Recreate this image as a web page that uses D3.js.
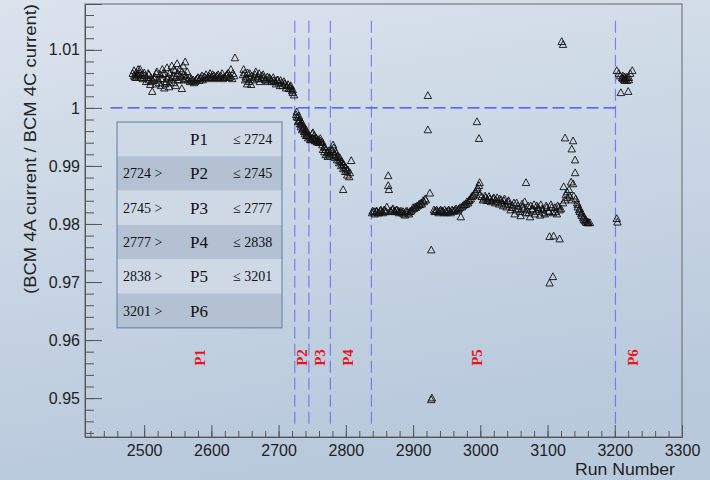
<!DOCTYPE html>
<html>
<head>
<meta charset="utf-8">
<script src="https://cdn.jsdelivr.net/npm/d3@7"></script>
<style>
  body { margin: 0; }
  svg { display: block; }
</style>
</head>
<body>
<div id="chart"></div>
<script>
// period boundaries (run numbers) and labels
var bounds = [2724, 2745, 2777, 2838, 3201];
var periods = ["P1", "P2", "P3", "P4", "P5", "P6"];
var periodLabelRuns = [2583, 2735, 2761, 2803, 2995, 3226];

var xTicks = [2500, 2600, 2700, 2800, 2900, 3000, 3100, 3200, 3300];
var yTicks = [0.95, 0.96, 0.97, 0.98, 0.99, 1, 1.01];

// [run, BCM4A/BCM4C]
var p1 = [[2483,1.0059],[2485,1.0064],[2486,1.0053],[2488,1.0060],[2489,1.0057],[2491,1.0066],[2492,1.0055],
  [2494,1.0060],[2495,1.0052],[2498,1.0050],[2501,1.0055],[2503,1.0045],[2506,1.0059],[2507,1.0048],
  [2509,1.0040],[2510,1.0052],[2512,1.0028],[2513,1.0047],[2516,1.0053],[2518,1.0041],[2519,1.0062],
  [2521,1.0048],[2524,1.0057],[2525,1.0038],[2527,1.0066],[2528,1.0050],[2530,1.0034],[2531,1.0059],
  [2533,1.0045],[2534,1.0069],[2536,1.0053],[2537,1.0036],[2538,1.0060],[2540,1.0048],[2541,1.0072],
  [2543,1.0055],[2544,1.0043],[2546,1.0064],[2547,1.0052],[2549,1.0076],[2550,1.0059],[2552,1.0048],
  [2553,1.0067],[2555,1.0053],[2556,1.0033],[2558,1.0072],[2559,1.0057],[2561,1.0079],[2562,1.0050],
  [2564,1.0062],[2565,1.0048],[2568,1.0045],[2571,1.0047],[2574,1.0043],[2577,1.0048],[2580,1.0052],
  [2583,1.0050],[2586,1.0055],[2589,1.0053],[2592,1.0057],[2595,1.0052],[2598,1.0059],[2601,1.0053],
  [2604,1.0055],[2607,1.0052],[2610,1.0057],[2613,1.0053],[2616,1.0059],[2619,1.0052],[2622,1.0055],
  [2625,1.0060],[2628,1.0053],[2629,1.0066],[2631,1.0050],[2632,1.0059],[2635,1.0086],[2647,1.0057],
  [2648,1.0066],[2650,1.0048],[2651,1.0053],[2653,1.0041],[2654,1.0060],[2656,1.0045],[2657,1.0052],
  [2659,1.0040],[2660,1.0055],[2663,1.0053],[2666,1.0062],[2668,1.0050],[2671,1.0059],[2672,1.0045],
  [2675,1.0055],[2678,1.0052],[2680,1.0048],[2683,1.0053],[2684,1.0045],[2687,1.0050],[2690,1.0045],
  [2693,1.0047],[2696,1.0041],[2699,1.0048],[2702,1.0038],[2705,1.0043],[2708,1.0045],[2711,1.0034],
  [2714,1.0040],[2717,1.0036],[2718,1.0033],[2720,1.0029],[2721,1.0026],[2723,1.0022],
  [2485,1.0055],[2488,1.0052],[2491,1.0059],[2494,1.0066],[2497,1.0057],[2500,1.0060],[2504,1.0052],
  [2507,1.0057],[2510,1.0045],[2515,1.0050],[2518,1.0059],[2522,1.0043],[2525,1.0050],[2528,1.0059],
  [2531,1.0041],[2534,1.0050],[2538,1.0043],[2541,1.0052],[2544,1.0066],[2547,1.0038],[2550,1.0048],
  [2553,1.0055],[2556,1.0062],[2559,1.0048],[2562,1.0055],[2567,1.0052],[2570,1.0050],[2573,1.0048],
  [2576,1.0045],[2579,1.0050],[2582,1.0047],[2584,1.0052],[2587,1.0048],[2590,1.0053],[2593,1.0050],
  [2596,1.0055],[2599,1.0052],[2602,1.0057],[2605,1.0050],[2608,1.0055],[2611,1.0052],[2614,1.0055],
  [2617,1.0050],[2620,1.0053],[2623,1.0057],[2626,1.0052],[2634,1.0055],[2650,1.0060],[2653,1.0050],
  [2657,1.0059],[2662,1.0048],[2665,1.0057],[2669,1.0053],[2674,1.0050],[2677,1.0057],[2681,1.0048],
  [2686,1.0052],[2689,1.0048],[2692,1.0052],[2695,1.0045],[2698,1.0048],[2700,1.0043],[2703,1.0047],
  [2706,1.0038],[2709,1.0041],[2712,1.0038],[2715,1.0033],[2718,1.0038],[2721,1.0031]];

var p2 = [[2726,0.9988],[2727,0.9993],[2729,0.9983],[2729,0.9976],[2730,0.9986],[2732,0.9972],[2732,0.9979],
  [2733,0.9967],[2735,0.9974],[2735,0.9962],[2736,0.9969],[2738,0.9959],[2738,0.9966],[2739,0.9955],
  [2741,0.9962],[2741,0.9952],[2742,0.9957],[2744,0.9948],[2744,0.9953],
  [2727,0.9984],[2730,0.9978],[2733,0.9972],[2736,0.9964],[2739,0.9960],[2742,0.9952]];

var p3 = [[2747,0.9950],[2748,0.9945],[2750,0.9955],[2751,0.9947],[2751,0.9957],[2753,0.9952],[2754,0.9943],
  [2756,0.9948],[2757,0.9941],[2759,0.9945],[2760,0.9940],[2762,0.9943],[2763,0.9940],[2765,0.9941],
  [2766,0.9928],[2768,0.9924],[2769,0.9931],[2770,0.9919],[2772,0.9922],[2773,0.9916],[2775,0.9926],
  [2776,0.9917],
  [2747,0.9945],[2750,0.9948],[2753,0.9945],[2756,0.9943],[2759,0.9941],[2762,0.9947],[2765,0.9936],
  [2768,0.9933],[2770,0.9928],[2773,0.9924],[2776,0.9922]];

var p4 = [[2779,0.9928],[2781,0.9936],[2782,0.9919],[2782,0.9931],[2784,0.9914],[2785,0.9924],[2787,0.9910],
  [2788,0.9917],[2790,0.9905],[2791,0.9914],[2793,0.9900],[2794,0.9907],[2796,0.9895],[2797,0.9902],
  [2799,0.9890],[2800,0.9897],[2802,0.9884],[2803,0.9893],[2805,0.9881],[2806,0.9888],[2808,0.9909],
  [2796,0.9859],
  [2781,0.9924],[2784,0.9919],[2787,0.9916],[2790,0.9910],[2793,0.9907],[2796,0.9902],[2799,0.9897],
  [2802,0.9891]];

var p5 = [[2839,0.9819],[2840,0.9822],[2843,0.9817],[2845,0.9821],[2848,0.9819],[2851,0.9822],[2854,0.9821],
  [2857,0.9824],[2860,0.9821],[2861,0.9829],[2863,0.9883],[2863,0.9866],[2864,0.9859],[2866,0.9822],
  [2869,0.9824],[2872,0.9822],[2875,0.9824],[2878,0.9822],[2880,0.9821],[2883,0.9819],[2886,0.9817],
  [2889,0.9821],[2892,0.9819],[2895,0.9821],[2898,0.9824],[2901,0.9826],[2904,0.9828],[2907,0.9831],
  [2910,0.9833],[2913,0.9834],[2916,0.9838],[2919,0.9841],[2922,1.0021],[2922,0.9962],[2925,0.9853],
  [2927,0.9755],[2927,0.9497],[2928,0.9500],
  [2842,0.9821],[2846,0.9822],[2849,0.9819],[2852,0.9824],[2855,0.9819],[2858,0.9822],[2867,0.9821],
  [2870,0.9826],[2873,0.9821],[2876,0.9824],[2879,0.9819],[2882,0.9822],[2885,0.9821],[2888,0.9815],
  [2891,0.9822],[2894,0.9817],[2897,0.9822],[2900,0.9828],[2903,0.9829],[2906,0.9831],[2909,0.9834],
  [2912,0.9836],[2915,0.9840],[2918,0.9843],
  [2931,0.9824],[2934,0.9822],[2937,0.9821],[2940,0.9822],[2943,0.9821],[2946,0.9819],[2949,0.9821],
  [2952,0.9822],[2955,0.9821],[2958,0.9824],[2961,0.9822],[2964,0.9826],[2967,0.9824],[2970,0.9828],
  [2971,0.9812],[2973,0.9829],[2976,0.9833],[2979,0.9834],[2982,0.9836],[2984,0.9841],[2987,0.9847],
  [2990,0.9850],[2993,0.9855],[2996,0.9862],[2995,0.9976],[2998,0.9947],[2999,0.9871],
  [2932,0.9821],[2935,0.9824],[2938,0.9819],[2941,0.9824],[2944,0.9822],[2947,0.9824],[2950,0.9819],
  [2953,0.9824],[2956,0.9819],[2959,0.9822],[2962,0.9824],[2965,0.9822],[2968,0.9826],[2974,0.9831],
  [2977,0.9833],[2980,0.9838],[2983,0.9840],[2986,0.9843],[2989,0.9848],[2992,0.9853],[2995,0.9859],
  [2998,0.9866],
  [3002,0.9847],[3005,0.9843],[3008,0.9845],[3011,0.9841],[3014,0.9843],[3017,0.9840],[3020,0.9845],
  [3023,0.9841],[3026,0.9838],[3029,0.9843],[3032,0.9836],[3035,0.9840],[3038,0.9834],[3041,0.9838],
  [2999,0.9850],[3004,0.9841],[3007,0.9848],[3010,0.9840],[3013,0.9847],[3016,0.9838],[3019,0.9843],
  [3022,0.9836],[3025,0.9845],[3028,0.9834],[3031,0.9841],[3034,0.9831],[3036,0.9843],[3039,0.9829],
  [3042,0.9840],
  [3044,0.9833],[3047,0.9828],[3050,0.9836],[3053,0.9824],[3056,0.9831],[3059,0.9821],[3062,0.9834],
  [3065,0.9826],[3068,0.9871],[3068,0.9819],[3071,0.9831],[3074,0.9812],[3077,0.9824],[3080,0.9833],
  [3083,0.9821],[3086,0.9828],[3089,0.9815],[3092,0.9826],[3095,0.9819],[3098,0.9831],[3101,0.9822],
  [3103,0.9778],[3103,0.9698],[3106,0.9828],[3108,0.9709],[3109,0.9779],[3112,0.9821],[3115,0.9831],
  [3118,0.9774],[3118,0.9824],
  [3045,0.9824],[3048,0.9831],[3051,0.9817],[3054,0.9836],[3057,0.9826],[3060,0.9814],[3063,0.9829],
  [3066,0.9838],[3069,0.9824],[3072,0.9819],[3075,0.9831],[3078,0.9826],[3081,0.9817],[3084,0.9831],
  [3087,0.9824],[3090,0.9833],[3093,0.9824],[3096,0.9817],[3099,0.9828],[3102,0.9821],[3105,0.9833],
  [3108,0.9819],[3111,0.9828],[3114,0.9817],[3117,0.9829],
  [3121,1.0114],[3123,1.0109],[3124,0.9864],[3126,0.9948],[3127,0.9850],[3129,0.9855],[3130,0.9845],
  [3132,0.9859],[3133,0.9848],[3135,0.9872],[3136,0.9929],[3136,0.9841],[3138,0.9943],[3138,0.9869],
  [3141,0.9910],[3141,0.9888],
  [3120,0.9826],[3123,0.9836],[3126,0.9841],[3139,0.9848],[3142,0.9843],
  [3144,0.9836],[3145,0.9829],[3147,0.9824],[3148,0.9821],[3150,0.9817],[3151,0.9814],[3153,0.9810],
  [3154,0.9807],[3156,0.9805],[3157,0.9803],[3159,0.9802],[3160,0.9802],[3161,0.9802],
  [3145,0.9833],[3148,0.9826],[3151,0.9819],[3154,0.9812],[3157,0.9807],[3160,0.9803],[3163,0.9802]];

var p6 = [[3203,0.9809],[3204,0.9803],[3203,1.0064],[3206,1.0059],[3209,1.0026],[3211,1.0052],[3212,1.0055],
  [3214,1.0048],[3215,1.0053],[3217,1.0050],[3218,1.0047],[3220,1.0028],[3221,1.0052],[3223,1.0059],
  [3226,1.0064],
  [3208,1.0055],[3212,1.0050],[3215,1.0047],[3218,1.0053],[3221,1.0048]];

var width = 710, height = 480;

var svg = d3.select("#chart").append("svg")
    .attr("width", width)
    .attr("height", height);

var defs = svg.append("defs");
var grad = defs.append("linearGradient")
    .attr("id", "bg")
    .attr("x1", 0).attr("y1", 0).attr("x2", 0.25).attr("y2", 1);
grad.append("stop").attr("offset", "0%").attr("stop-color", "#dbe3ed");
grad.append("stop").attr("offset", "100%").attr("stop-color", "#b8c9dc");

svg.append("rect")
    .attr("width", width).attr("height", height)
    .attr("fill", "url(#bg)");

var x = d3.scaleLinear().domain([2412, 3300]).range([85, 682]);
var y = d3.scaleLinear().domain([0.9433, 1.0179]).range([437, 4]);

// frame
svg.append("rect")
    .attr("x", x.range()[0]).attr("y", y.range()[1])
    .attr("width", x.range()[1] - x.range()[0])
    .attr("height", y.range()[0] - y.range()[1])
    .attr("fill", "none")
    .attr("stroke", "#666")
    .attr("stroke-width", 1);

// axes: minor ticks
svg.append("g")
    .attr("transform", "translate(0," + y.range()[0] + ")")
    .call(d3.axisBottom(x).tickValues(d3.range(2420, 3301, 20)).tickSize(-6).tickFormat(""))
    .call(function(g) { g.select(".domain").remove(); });
svg.append("g")
    .attr("transform", "translate(" + x.range()[0] + ",0)")
    .call(d3.axisLeft(y).tickValues(d3.range(944, 1018, 2).map(function(d) { return d / 1000; })).tickSize(-9).tickFormat(""))
    .call(function(g) { g.select(".domain").remove(); });

// major ticks + labels
var xAxis = svg.append("g")
    .attr("transform", "translate(0," + y.range()[0] + ")")
    .call(d3.axisBottom(x).tickValues(xTicks).tickSize(-12).tickPadding(8).tickFormat(d3.format("d")));
var yAxis = svg.append("g")
    .attr("transform", "translate(" + x.range()[0] + ",0)")
    .call(d3.axisLeft(y).tickValues(yTicks).tickSize(-17).tickPadding(5).tickFormat(function(d) { return String(+d.toFixed(2)); }));

[xAxis, yAxis].forEach(function(g) {
    g.select(".domain").attr("stroke", "#555");
    g.selectAll("text")
        .attr("font-family", "Liberation Sans, Arial, sans-serif")
        .attr("font-size", 16)
        .attr("fill", "#222");
});
svg.selectAll(".tick line").attr("stroke", "#555");

// axis titles
svg.append("text")
    .attr("transform", "translate(36,4) rotate(-90)")
    .attr("text-anchor", "end")
    .attr("font-family", "Liberation Sans, Arial, sans-serif")
    .attr("font-size", 16.5)
    .attr("textLength", 290)
    .attr("lengthAdjust", "spacingAndGlyphs")
    .attr("fill", "#222")
    .text("(BCM 4A current / BCM 4C current)");

svg.append("text")
    .attr("x", 675).attr("y", 475)
    .attr("text-anchor", "end")
    .attr("font-family", "Liberation Sans, Arial, sans-serif")
    .attr("font-size", 17)
    .attr("textLength", 100)
    .attr("lengthAdjust", "spacingAndGlyphs")
    .attr("fill", "#222")
    .text("Run Number");

// legend table
var rows = periods.map(function(p, i) {
    return [i > 0 ? bounds[i - 1] + " >" : "", p, i < bounds.length ? "\u2264 " + bounds[i] : ""];
});
var tbl = svg.append("g").attr("transform", "translate(117,122)");
var rowH = 34.3, tblW = 165;
tbl.selectAll("rect.row")
    .data(rows)
    .enter().append("rect")
    .attr("class", "row")
    .attr("x", 0).attr("y", function(d, i) { return i * rowH; })
    .attr("width", tblW).attr("height", rowH)
    .attr("fill", function(d, i) { return i % 2 ? "#b3c1d3" : "#cfd9e6"; });
tbl.append("rect")
    .attr("width", tblW).attr("height", rowH * rows.length)
    .attr("fill", "none").attr("stroke", "#6d8db3").attr("stroke-width", 1.2);
var cols = [6, 73, 116];
rows.forEach(function(r, i) {
    r.forEach(function(t, j) {
        tbl.append("text")
            .attr("x", cols[j])
            .attr("y", i * rowH + rowH / 2)
            .attr("dy", "0.35em")
            .attr("font-family", "Liberation Serif, Times New Roman, serif")
            .attr("font-size", j == 1 ? 17 : 14)
            .attr("fill", "#111")
            .text(t);
    });
});

// dashed guide lines
svg.append("line")
    .attr("x1", x(2450)).attr("x2", x(3201))
    .attr("y1", y(1)).attr("y2", y(1))
    .attr("stroke", "#3030f5").attr("stroke-opacity", 0.9)
    .attr("stroke-width", 1.2)
    .attr("stroke-dasharray", "12,5");

svg.selectAll("line.bound")
    .data(bounds)
    .enter().append("line")
    .attr("class", "bound")
    .attr("x1", function(d) { return x(d); }).attr("x2", function(d) { return x(d); })
    .attr("y1", y(1.015)).attr("y2", y(0.945))
    .attr("stroke", "#5a5af0").attr("stroke-opacity", 0.7)
    .attr("stroke-width", 1.2)
    .attr("stroke-dasharray", "12,5");

// period labels
svg.selectAll("text.plabel")
    .data(periods)
    .enter().append("text")
    .attr("class", "plabel")
    .attr("transform", function(d, i) { return "translate(" + x(periodLabelRuns[i]) + "," + y(0.957) + ") rotate(-90)"; })
    .attr("text-anchor", "middle")
    .attr("dy", "0.35em")
    .attr("font-family", "Liberation Serif, Times New Roman, serif")
    .attr("font-weight", "bold")
    .attr("font-size", 15)
    .attr("fill", "#e8141b")
    .text(function(d) { return d; });

// data points: open triangles
var points = [].concat(p1, p2, p3, p4, p5, p6);
svg.selectAll("path.pt")
    .data(points)
    .enter().append("path")
    .attr("class", "pt")
    .attr("d", "M0,-4L3.7,2.8L-3.7,2.8Z")
    .attr("transform", function(d) { return "translate(" + x(d[0]) + "," + y(d[1]) + ")"; })
    .attr("fill", "none")
    .attr("stroke", "#111")
    .attr("stroke-width", 0.9);
</script>
</body>
</html>
